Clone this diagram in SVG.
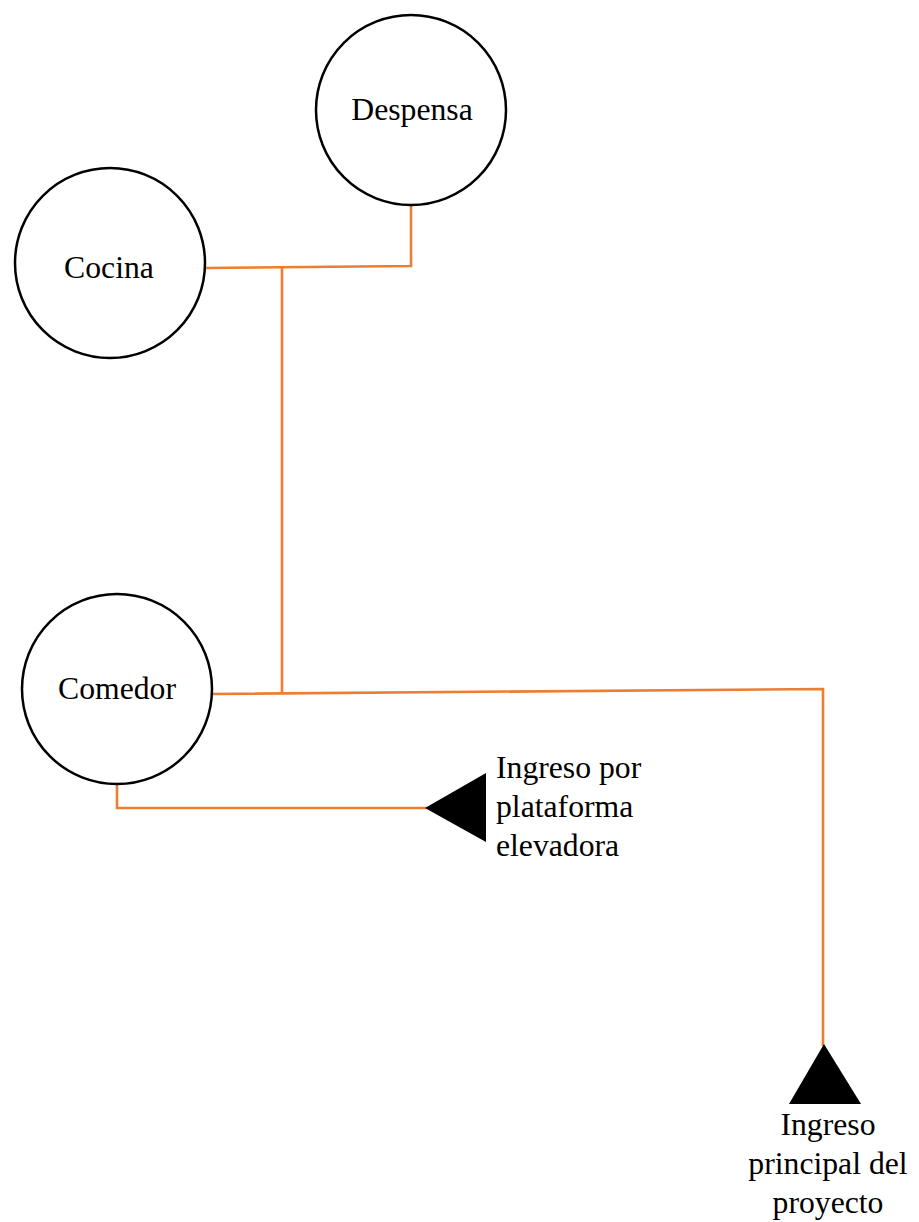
<svg xmlns="http://www.w3.org/2000/svg" width="919" height="1222" viewBox="0 0 919 1222">
<style>
.node circle{fill:#fff;stroke:#000;stroke-width:2.5}
.lbl{font-family:"Liberation Serif","Times New Roman",serif;font-size:31.7px;fill:#000}
.conn{fill:none;stroke:#ED7D31;stroke-width:2.6}
.tri{fill:#000}
</style>
<rect width="919" height="1222" fill="#fff"/>
<g id="connectors">
<polyline class="conn" points="205,268 411,266 411,206"/>
<line class="conn" x1="282" y1="267" x2="282" y2="693"/>
<polyline class="conn" points="212,694 823,689 823,1046"/>
<polyline class="conn" points="117,784 117,808 427,808"/>
</g>
<g id="despensa" class="node">
<circle cx="411" cy="110" r="95"/>
<text class="lbl" x="412" y="120" text-anchor="middle">Despensa</text>
</g>
<g id="cocina" class="node">
<circle cx="110" cy="263" r="95"/>
<text class="lbl" x="109" y="278" text-anchor="middle">Cocina</text>
</g>
<g id="comedor" class="node">
<circle cx="117" cy="689" r="95"/>
<text class="lbl" x="117" y="699" text-anchor="middle">Comedor</text>
</g>
<g id="ingreso-plataforma">
<polygon class="tri" points="425,808 486,773 486,842"/>
<text class="lbl" x="496" y="778">Ingreso por</text>
<text class="lbl" x="496" y="817">plataforma</text>
<text class="lbl" x="496" y="856">elevadora</text>
</g>
<g id="ingreso-principal">
<polygon class="tri" points="824,1044 789,1104 861,1104"/>
<text class="lbl" x="828" y="1135" text-anchor="middle">Ingreso</text>
<text class="lbl" x="828" y="1174" text-anchor="middle">principal del</text>
<text class="lbl" x="828" y="1213" text-anchor="middle">proyecto</text>
</g>
</svg>
